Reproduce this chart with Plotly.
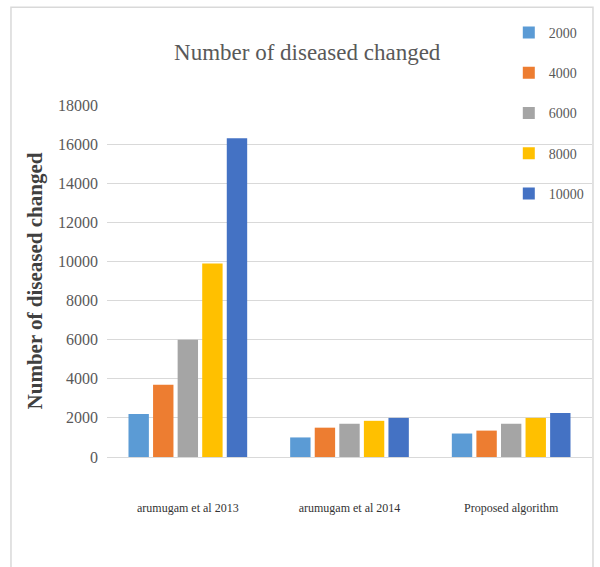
import plotly.graph_objects as go

categories = ["arumugam et al 2013", "arumugam et al 2014", "Proposed algorithm"]
series_names = ["2000", "4000", "6000", "8000", "10000"]
values_2000 = [2200, 1000, 1200]
values_4000 = [3700, 1500, 1350]
values_6000 = [6000, 1700, 1700]
values_8000 = [9900, 1850, 2000]
values_10000 = [16300, 2000, 2250]
colors = ["#5B9BD5", "#ED7D31", "#A5A5A5", "#FFC000", "#4472C4"]
y_ticks = list(range(0, 18001, 2000))
y_tick_labels = [str(v) for v in y_ticks]

all_values = [values_2000, values_4000, values_6000, values_8000, values_10000]

fig = go.Figure()
for name, vals, col in zip(series_names, all_values, colors):
    fig.add_trace(go.Bar(x=categories, y=vals, name=name, marker_color=col,
                         marker_line_width=0, legendgroup=name))

serif = "Liberation Serif, Times New Roman, serif"

fig.update_layout(
    width=600, height=567,
    margin=dict(l=107, r=8, t=105, b=110, autoexpand=False),
    paper_bgcolor="white", plot_bgcolor="white",
    barmode="group", bargap=0.24, bargroupgap=0.17,
    font=dict(family=serif, color="#595959"),
    title=dict(text="Number of diseased changed", x=0.512, xanchor="center",
               y=1 - 52 / 567, yref="container", yanchor="middle",
               font=dict(family=serif, size=23, color="#595959")),
    legend=dict(x=0.848, xref="container", xanchor="left",
                y=1 - 17 / 567, yref="container", yanchor="top",
                font=dict(family=serif, size=14, color="#595959"),
                itemwidth=30,
                tracegroupgap=19, bgcolor="rgba(0,0,0,0)"),
    showlegend=True,
)
fig.update_xaxes(showgrid=False, showline=False, ticks="",
                 tickfont=dict(family=serif, size=12, color="#333333"),
                 ticklabelstandoff=42)
fig.update_yaxes(range=[0, 18000], tickvals=y_ticks, ticktext=y_tick_labels,
                 showgrid=True, gridcolor="#D9D9D9", gridwidth=1,
                 zeroline=True, zerolinecolor="#D9D9D9", zerolinewidth=1,
                 tickfont=dict(family=serif, size=16, color="#595959"),
                 ticklabelstandoff=8,
                 title=dict(text="<b>Number of diseased changed</b>", standoff=9,
                            font=dict(family=serif, size=21, color="#404040")))

fig.add_shape(type="rect", xref="paper", yref="paper",
              x0=-0.198, x1=1.002, y0=-0.35, y1=1.278,
              line=dict(color="#D9D9D9", width=1.5), fillcolor="rgba(0,0,0,0)",
              layer="below")

fig.write_html("out.html")
